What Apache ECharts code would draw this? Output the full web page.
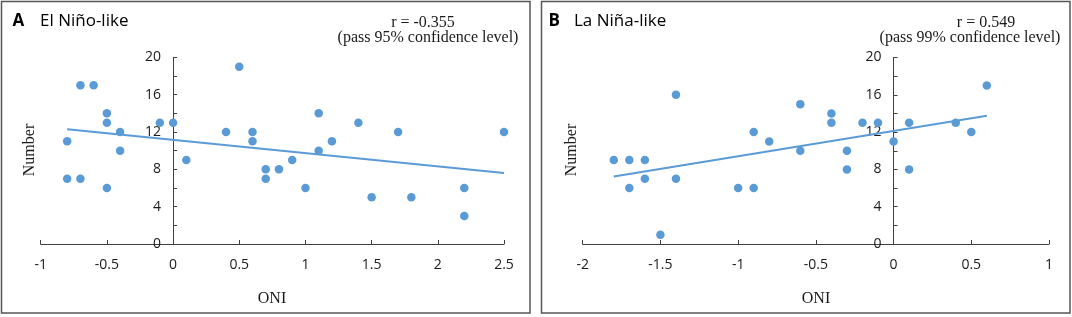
<!DOCTYPE html>
<html><head><meta charset="utf-8">
<script src="https://cdn.jsdelivr.net/npm/echarts@6/dist/echarts.min.js"></script>
<style>html,body{margin:0;padding:0;background:#fff}#c{width:1072px;height:317px}</style>
</head><body><div id="c"></div>
<script>
// Panel A: El Niño-like
const oniA = [-0.8,-0.8,-0.7,-0.6,-0.7,-0.5,-0.5,-0.5,-0.4,-0.4,-0.1,0,0.1,0.4,0.5,0.6,0.6,0.7,0.7,0.8,0.9,1,1.1,1.1,1.2,1.4,1.5,1.7,1.8,2.2,2.2,2.5];
const numA = [11,7,17,17,7,14,13,6,12,10,13,13,9,12,19,12,11,8,7,8,9,6,14,10,11,13,5,12,5,6,3,12];
const trendXA = [-0.8, 2.5];
const trendYA = [12.3, 7.6];
// Panel B: La Niña-like
const oniB = [-1.8,-1.7,-1.6,-1.7,-1.6,-1.4,-1.4,-1.5,-1,-0.9,-0.9,-0.8,-0.6,-0.6,-0.4,-0.4,-0.3,-0.3,-0.2,-0.1,0,0.1,0.1,0.4,0.5,0.6];
const numB = [9,9,9,6,7,16,7,1,6,6,12,11,15,10,14,13,10,8,13,13,11,13,8,13,12,17];
const trendXB = [-1.8, 0.6];
const trendYB = [7.25, 13.75];
const xTicksA = {min:-1, max:2.5, interval:0.5};
const xTicksB = {min:-2, max:1, interval:0.5};
const yTicks = {min:0, max:20, interval:2, labelEvery:4};

const zip = (a,b)=>a.map((v,i)=>[v,b[i]]);
const blue = '#5B9BD5';
const axisCol = '#404040';
const txtCol = '#1a1a1a';
const tickFont = {fontFamily:'Open Sans', fontSize:14, color:txtCol};

const grids = [
  {left:40.7, top:57.3, width:463.3, height:186.7},
  {left:582.7, top:57.5, width:466.3, height:186.5}
];

function xAxis(idx, t){
  return {type:'value', gridIndex:idx, min:t.min, max:t.max, interval:t.interval,
    axisLine:{show:true, onZero:true, lineStyle:{color:axisCol, width:1}},
    axisTick:{show:true, inside:true, length:4, lineStyle:{color:axisCol}},
    axisLabel:Object.assign({margin:14, formatter:v=>String(v)}, tickFont),
    splitLine:{show:false}};
}
function yAxis(idx, t){
  // place the y axis where x = 0 (axis crosses at zero)
  const off = -((0 - t.min) / (t.max - t.min)) * grids[idx].width;
  return {type:'value', gridIndex:idx, min:yTicks.min, max:yTicks.max, interval:yTicks.interval,
    position:'left', offset:off,
    axisLine:{show:true, onZero:false, lineStyle:{color:axisCol, width:1}},
    axisTick:{show:true, inside:true, length:4, lineStyle:{color:axisCol}},
    axisLabel:Object.assign({margin:12, formatter:v=> (v % yTicks.labelEvery === 0 ? String(v) : '')}, tickFont),
    splitLine:{show:false}};
}
const serif = 'Liberation Serif';
function txt(x,y,s,opt){
  return {type:'text', x:x, y:y, silent:true, style:Object.assign({text:s, fill:txtCol, font:'16px '+serif, textAlign:'center', textVerticalAlign:'middle'}, opt||{})};
}
const chart = echarts.init(document.getElementById('c'), null, {renderer:'canvas'});
chart.setOption({
  animation:false,
  backgroundColor:'#fff',
  grid:grids.map(g=>Object.assign({containLabel:false, outerBoundsMode:'none'}, g)),
  xAxis:[xAxis(0,xTicksA), xAxis(1,xTicksB)],
  yAxis:[yAxis(0,xTicksA), yAxis(1,xTicksB)],
  series:[
    {type:'scatter', xAxisIndex:0, yAxisIndex:0, data:zip(oniA,numA), symbolSize:8.5, itemStyle:{color:blue, opacity:1}, z:3},
    {type:'line', xAxisIndex:0, yAxisIndex:0, data:zip(trendXA,trendYA), symbol:'none', lineStyle:{color:blue, width:2}, z:2},
    {type:'scatter', xAxisIndex:1, yAxisIndex:1, data:zip(oniB,numB), symbolSize:8.5, itemStyle:{color:blue, opacity:1}, z:3},
    {type:'line', xAxisIndex:1, yAxisIndex:1, data:zip(trendXB,trendYB), symbol:'none', lineStyle:{color:blue, width:2}, z:2}
  ],
  graphic:[
    {type:'rect', shape:{x:1.5, y:1.5, width:528.5, height:311.5}, style:{fill:'none', stroke:'#555', lineWidth:1.5}, silent:true},
    {type:'rect', shape:{x:541.5, y:1.5, width:528.5, height:311.5}, style:{fill:'none', stroke:'#555', lineWidth:1.5}, silent:true},
    txt(12.5, 21, 'A', {font:'bold 17px Open Sans', textAlign:'left', fill:'#000'}),
    txt(40, 21, 'El Niño-like', {font:'17px Open Sans', textAlign:'left', fill:'#000'}),
    txt(548.5, 21, 'B', {font:'bold 17px Open Sans', textAlign:'left', fill:'#000'}),
    txt(574, 21, 'La Niña-like', {font:'17px Open Sans', textAlign:'left', fill:'#000'}),
    txt(423, 23, 'r = -0.355'),
    txt(428, 37.5, '(pass 95% confidence level)'),
    txt(986, 23, 'r = 0.549'),
    txt(970, 37.5, '(pass 99% confidence level)'),
    txt(272, 299, 'ONI'),
    txt(816, 299, 'ONI'),
    {type:'text', x:30, y:150, rotation:Math.PI/2, silent:true, style:{text:'Number', fill:txtCol, font:'16px '+serif, textAlign:'center', textVerticalAlign:'middle'}},
    {type:'text', x:572, y:150, rotation:Math.PI/2, silent:true, style:{text:'Number', fill:txtCol, font:'16px '+serif, textAlign:'center', textVerticalAlign:'middle'}}
  ]
});
</script></body></html>
